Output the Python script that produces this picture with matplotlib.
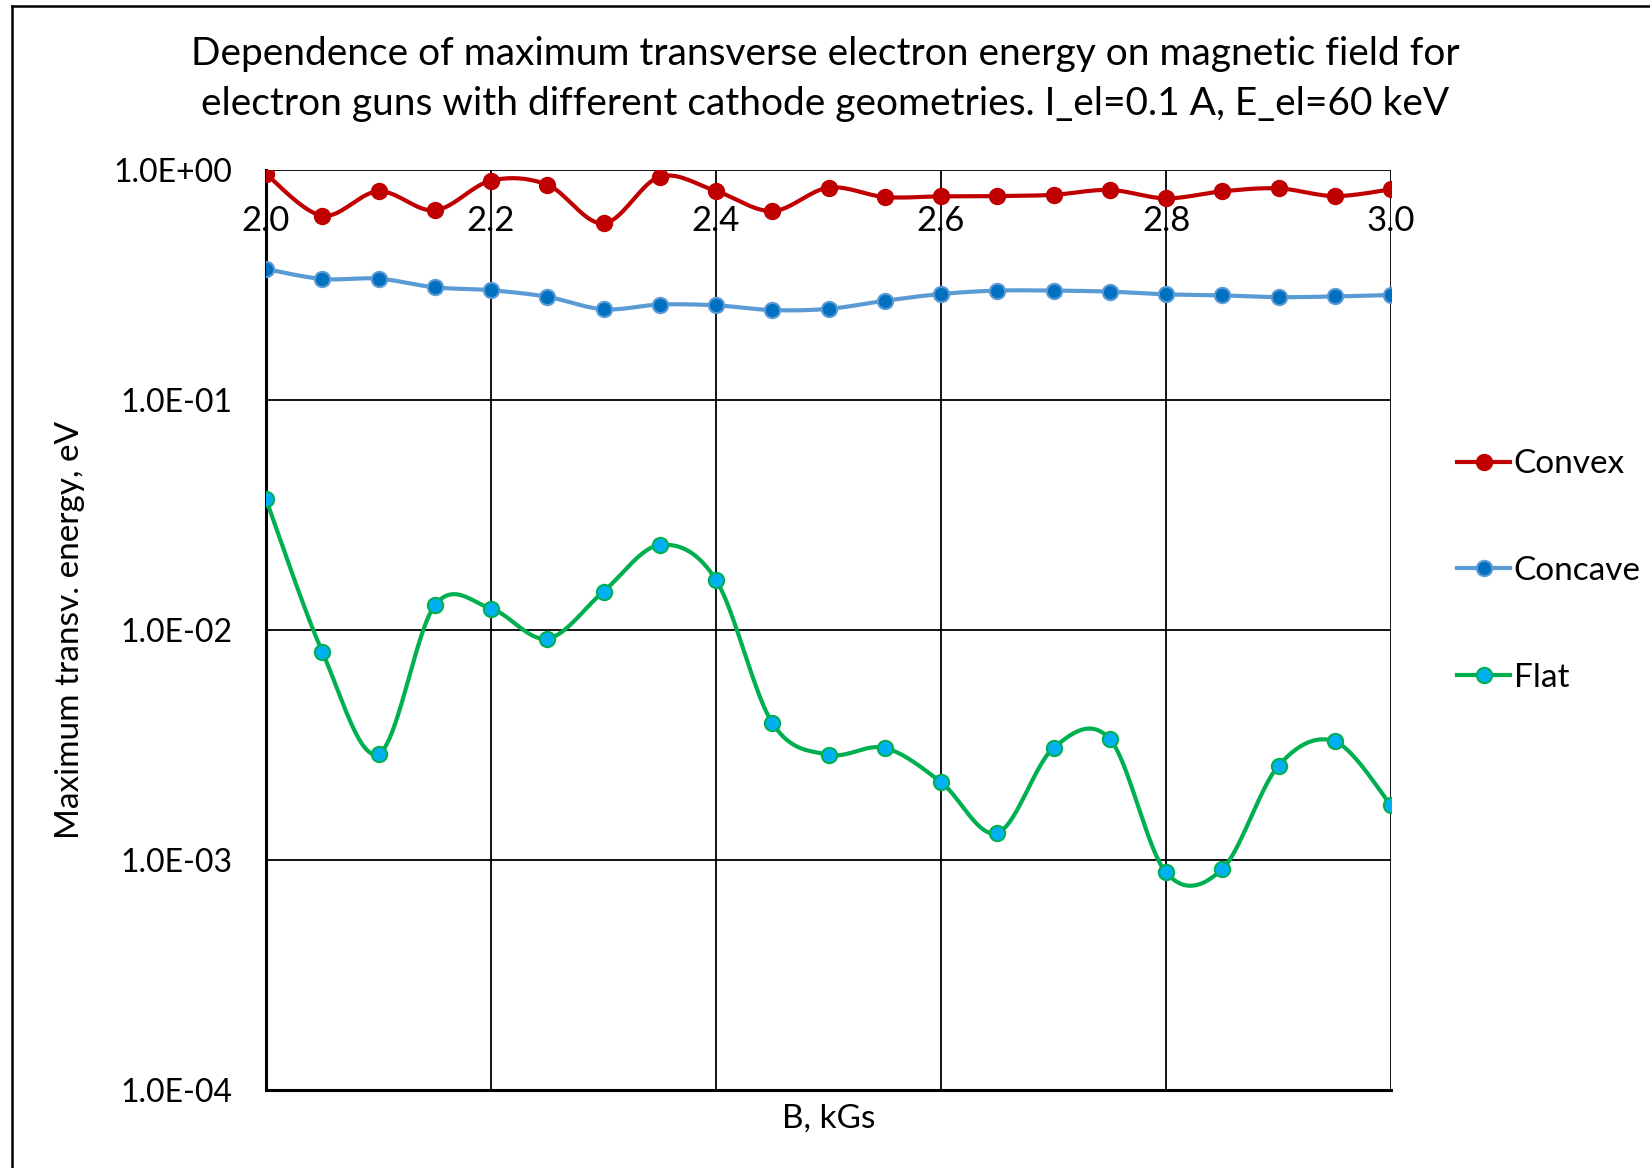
import numpy as np
import matplotlib
matplotlib.use("Agg")
import matplotlib.pyplot as plt
from matplotlib.lines import Line2D

plt.rcParams['font.family'] = ['Lato', 'DejaVu Sans']

B = [2.00, 2.05, 2.10, 2.15, 2.20, 2.25, 2.30, 2.35, 2.40, 2.45, 2.50,
     2.55, 2.60, 2.65, 2.70, 2.75, 2.80, 2.85, 2.90, 2.95, 3.00]
convex = [0.96, 0.633, 0.808, 0.668, 0.899, 0.863, 0.586, 0.935, 0.81, 0.663, 0.838,
          0.763, 0.768, 0.77, 0.78, 0.819, 0.753, 0.808, 0.832, 0.77, 0.824]
concave = [0.371, 0.336, 0.337, 0.309, 0.300, 0.281, 0.248, 0.260, 0.258, 0.246, 0.249,
           0.270, 0.289, 0.299, 0.299, 0.296, 0.288, 0.285, 0.280, 0.282, 0.286]
flat = [0.0370, 0.00805, 0.00289, 0.0128, 0.0124, 0.00917, 0.0147, 0.0234, 0.0165, 0.00395, 0.00287,
        0.00307, 0.00218, 0.00131, 0.00307, 0.00336, 0.000883, 0.000914, 0.00257, 0.00328, 0.00173]
series_names = ["Convex", "Concave", "Flat"]
xticks = [2.0, 2.2, 2.4, 2.6, 2.8, 3.0]
xtick_labels = ["2.0", "2.2", "2.4", "2.6", "2.8", "3.0"]
yticks = [1e-4, 1e-3, 1e-2, 1e-1, 1e0]
ytick_labels = ["1.0E-04", "1.0E-03", "1.0E-02", "1.0E-01", "1.0E+00"]
title = ("Dependence of maximum transverse electron energy on magnetic field for\n"
         "electron guns with different cathode geometries. I_el=0.1 A, E_el=60 keV")


def smooth(x, y, n=20):
    """Excel-like smoothed line (Bezier through points) in (x, log10 y) space."""
    x = np.asarray(x, float)
    ly = np.log10(np.asarray(y, float))
    P = np.column_stack([x, ly])
    out = []
    m = len(P)
    for i in range(m - 1):
        p0 = P[i - 1] if i > 0 else P[i]
        p1 = P[i]
        p2 = P[i + 1]
        p3 = P[i + 2] if i + 2 < m else P[i + 1]
        c1 = p1 + (p2 - p0) / 6.0
        c2 = p2 - (p3 - p1) / 6.0
        t = np.linspace(0, 1, n, endpoint=(i == m - 2))[:, None]
        seg = ((1 - t) ** 3) * p1 + 3 * ((1 - t) ** 2) * t * c1 + 3 * (1 - t) * t ** 2 * c2 + t ** 3 * p2
        out.append(seg)
    out = np.vstack(out)
    return out[:, 0], 10 ** out[:, 1]


fig = plt.figure(figsize=(16.5, 11.68), dpi=100)
ax = fig.add_axes([266 / 1650, 1 - 1090 / 1168, (1391 - 266) / 1650, 920 / 1168])

styles = [
    dict(color="#C00000", mfc="#C00000", mec="#C00000"),
    dict(color="#5B9BD5", mfc="#0070C0", mec="#5B9BD5"),
    dict(color="#00B050", mfc="#00B0F0", mec="#00B050"),
]
handles = []
for name, vals, st in zip(series_names, [convex, concave, flat], styles):
    sx, sy = smooth(B, vals)
    ax.plot(sx, sy, color=st["color"], lw=3.0, zorder=3, solid_capstyle="round")
    ax.plot(B, vals, ls="none", marker="o", ms=11, mfc=st["mfc"], mec=st["mec"], mew=1.5, zorder=4)
    handles.append(Line2D([0], [0], color=st["color"], lw=3.0, marker="o", ms=11,
                          mfc=st["mfc"], mec=st["mec"], mew=1.5))

ax.set_yscale("log")
ax.set_xlim(2.0, 3.0)
ax.set_ylim(1e-4, 1e0)
ax.set_yticks(yticks)
ax.set_yticklabels(ytick_labels, fontsize=23)
ax.minorticks_off()
ax.set_xticks(xticks)
ax.set_xticklabels([])
ax.tick_params(axis="both", length=0, pad=24)
for xt, lab in zip(xticks, xtick_labels):
    ax.text(xt, 0.945, lab, transform=ax.get_xaxis_transform(), ha="center", va="center",
            fontsize=25, zorder=5, clip_on=False)

ax.grid(True, color="black", lw=1.3)
for s in ["top", "right"]:
    ax.spines[s].set_visible(False)
ax.spines["left"].set_linewidth(2.2)
ax.spines["bottom"].set_linewidth(2.2)

ax.set_xlabel("B, kGs", fontsize=24)
ax.xaxis.set_label_coords(0.5, -(1119 - 1090) / 920)
ax.xaxis.label.set_va("center")
ax.set_ylabel("Maximum transv. energy, eV", fontsize=24)
ax.yaxis.set_label_coords((70 - 266) / 1125, 0.5)
ax.yaxis.label.set_va("center")
fig.text(0.5, 1 - 79 / 1168, title, ha="center", va="center", fontsize=28, linespacing=1.5)

fig.legend(handles, series_names, loc="center left", bbox_to_anchor=(1457 / 1650, 1 - 571 / 1168),
           frameon=False, fontsize=24, handlelength=1.6, handletextpad=0.1, labelspacing=2.3,
           borderpad=0, borderaxespad=0)

# outer chart border (left and top visible)
fig.add_artist(Line2D([12 / 1650, 12 / 1650], [0, 1 - 6 / 1168], transform=fig.transFigure, color="black", lw=1.8))
fig.add_artist(Line2D([12 / 1650, 1], [1 - 6 / 1168, 1 - 6 / 1168], transform=fig.transFigure, color="black", lw=1.8))

fig.savefig("out.png", dpi=100)
